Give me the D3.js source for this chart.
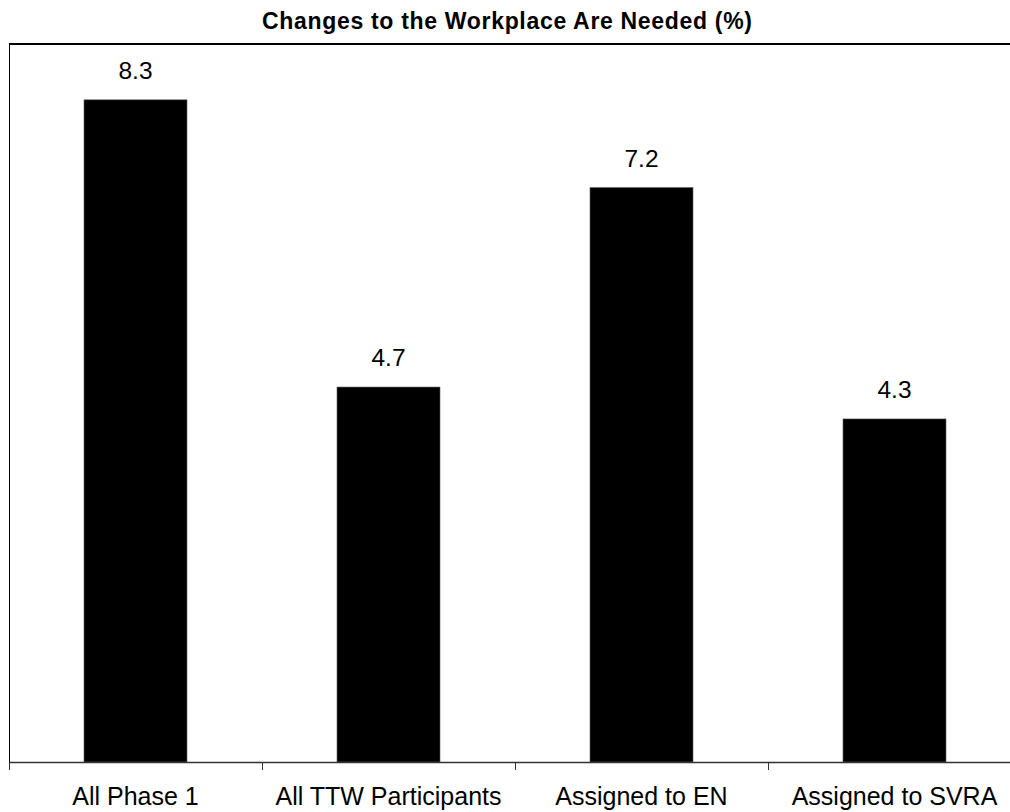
<!DOCTYPE html>
<html>
<head>
<meta charset="utf-8">
<script src="https://cdn.jsdelivr.net/npm/d3@7"></script>
<style>
  html, body { margin: 0; padding: 0; background: #fff; }
  svg { display: block; }
  text { font-family: "Liberation Sans", Arial, sans-serif; fill: #000; }
</style>
</head>
<body>
<svg id="chart" width="1010" height="812"></svg>
<script>
const title = "Changes to the Workplace Are Needed (%)";
const categories = ["All Phase 1", "All TTW Participants", "Assigned to EN", "Assigned to SVRA"];
const values = [8.3, 4.7, 7.2, 4.3];
const valueLabels = ["8.3", "4.7", "7.2", "4.3"];
const yDomain = [0, 9];

(function () {
const svg = d3.select("#chart");
const pLeft = 9, pRight = 1021, pTop = 44, pBottom = 762;

const x = d3.scaleBand().domain(categories).range([pLeft, pRight])
  .paddingInner(0.593).paddingOuter(0.2965);
const y = d3.scaleLinear().domain(yDomain).range([pBottom, pTop]);
const step = x.step();

// title
svg.append("text")
  .attr("x", 507).attr("y", 29)
  .attr("text-anchor", "middle")
  .attr("font-size", 23).attr("font-weight", "bold")
  .attr("textLength", 490).attr("lengthAdjust", "spacing")
  .text(title);

// frame: top and left
svg.append("line").attr("x1", pLeft).attr("x2", pRight).attr("y1", pTop).attr("y2", pTop)
  .attr("stroke", "#000").attr("stroke-width", 2);
svg.append("line").attr("x1", pLeft + 0.5).attr("x2", pLeft + 0.5).attr("y1", pTop).attr("y2", pBottom)
  .attr("stroke", "#000").attr("stroke-width", 1);

// bars
svg.selectAll("rect.bar").data(categories).enter().append("rect")
  .attr("class", "bar")
  .attr("x", d => x(d))
  .attr("width", x.bandwidth())
  .attr("y", (d, i) => y(values[i]))
  .attr("height", (d, i) => y(0) - y(values[i]))
  .attr("fill", "#000")
  .attr("stroke", "#555").attr("stroke-width", 0.6);

// value labels
svg.selectAll("text.val").data(categories).enter().append("text")
  .attr("class", "val")
  .attr("x", d => x(d) + x.bandwidth() / 2)
  .attr("y", (d, i) => y(values[i]) - 21)
  .attr("text-anchor", "middle")
  .attr("font-size", 24.5)
  .text((d, i) => valueLabels[i]);

// x axis line
svg.append("line").attr("x1", pLeft).attr("x2", pRight).attr("y1", pBottom + 0.5).attr("y2", pBottom + 0.5)
  .attr("stroke", "#333").attr("stroke-width", 1.5);

// tick marks at category boundaries
const bounds = categories.map(d => x(d) + x.bandwidth() / 2 - step / 2)
  .concat([x(categories[categories.length - 1]) + x.bandwidth() / 2 + step / 2]);
svg.selectAll("line.tick").data(bounds).enter().append("line")
  .attr("class", "tick")
  .attr("x1", d => d + 0.5).attr("x2", d => d + 0.5)
  .attr("y1", pBottom).attr("y2", pBottom + 8)
  .attr("stroke", "#333").attr("stroke-width", 1);

// category labels
svg.selectAll("text.cat").data(categories).enter().append("text")
  .attr("class", "cat")
  .attr("x", d => x(d) + x.bandwidth() / 2)
  .attr("y", 805)
  .attr("text-anchor", "middle")
  .attr("font-size", 25)
  .text(d => d);
})();
</script>
</body>
</html>
